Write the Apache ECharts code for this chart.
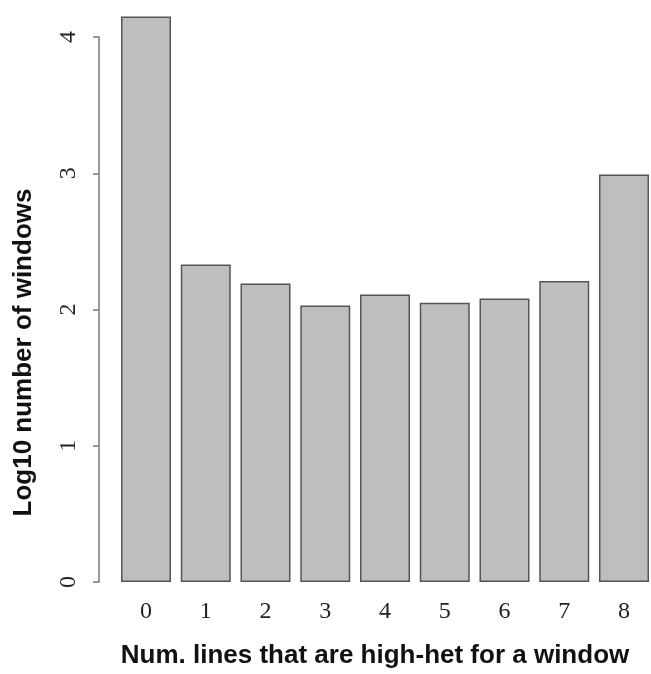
<!DOCTYPE html>
<html lang="en">
<head>
    <meta charset="UTF-8">
    <title>high-het windows</title>
    <script type="text/javascript" src="https://cdn.jsdelivr.net/npm/echarts@6/dist/echarts.min.js"></script>
    <style>
        html, body { margin: 0; padding: 0; background: #fff; }
    </style>
</head>
<body>
    <div id="chart" style="width:651px;height:674px;"></div>
<script>
// data
var categories = ['0', '1', '2', '3', '4', '5', '6', '7', '8'];
var log10Windows = [4.15, 2.33, 2.19, 2.03, 2.11, 2.05, 2.08, 2.21, 2.99];
var yTicks = [0, 1, 2, 3, 4];

var myChart = echarts.init(document.getElementById('chart'));

var option = {
    backgroundColor: '#ffffff',
    animation: false,
    // grid runs from the centre of the first bar to the centre of the last one
    grid: {
        left: 146,
        top: 37,
        right: 27,
        bottom: 91
    },
    xAxis: {
        type: 'category',
        boundaryGap: false,
        data: categories,
        axisLine: { show: false },
        axisTick: { show: false },
        axisLabel: {
            margin: 18,
            fontFamily: 'Liberation Serif',
            fontSize: 24,
            color: '#222'
        },
        name: 'Num. lines that are high-het for a window',
        nameLocation: 'middle',
        nameGap: 61,
        nameTextStyle: {
            fontFamily: 'Liberation Sans',
            fontWeight: 'bold',
            fontSize: 26,
            color: '#111',
            padding: [0, 20, 0, 0]
        }
    },
    yAxis: {
        type: 'value',
        min: yTicks[0],
        max: yTicks[yTicks.length - 1],
        interval: 1,
        offset: 47,
        axisLine: { show: true, lineStyle: { color: '#777', width: 1.5 } },
        axisTick: { show: true, length: 6, lineStyle: { color: '#777', width: 1.5 } },
        splitLine: { show: false },
        axisLabel: {
            rotate: 90,
            margin: 18,
            fontFamily: 'Liberation Serif',
            fontSize: 24,
            color: '#222'
        },
        name: 'Log10 number of windows',
        nameLocation: 'middle',
        nameRotate: 90,
        nameGap: 62,
        nameTextStyle: {
            fontFamily: 'Liberation Sans',
            fontWeight: 'bold',
            fontSize: 26,
            color: '#111',
            padding: [0, 86, 0, 0]
        }
    },
    series: [{
        type: 'bar',
        data: log10Windows,
        barWidth: 50,
        clip: false,
        itemStyle: {
            color: '#bebebe',
            borderColor: '#555',
            borderWidth: 1.5
        }
    }]
};

myChart.setOption(option);
</script>
</body>
</html>
